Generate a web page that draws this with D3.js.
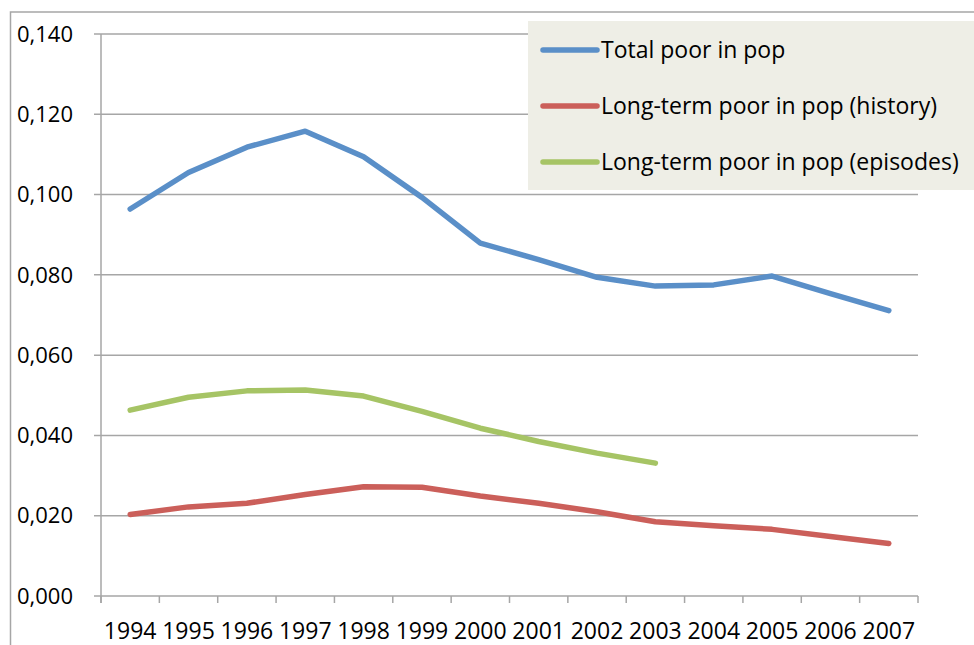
<!DOCTYPE html>
<html>
<head>
<meta charset="utf-8">
<script src="https://cdn.jsdelivr.net/npm/d3@7"></script>
<style>
  body { margin: 0; background: #fff; overflow: hidden; }
  text { font-family: "Open Sans", sans-serif; fill: #000; }
</style>
</head>
<body>
<script>
// data
var years = ["1994","1995","1996","1997","1998","1999","2000","2001","2002","2003","2004","2005","2006","2007"];
var totalPoor = [0.0964, 0.1055, 0.1118, 0.1158, 0.1094, 0.0993, 0.0879, 0.0838, 0.0794, 0.0772, 0.0775, 0.0797, 0.0753, 0.0711];
var longHistory = [0.0203, 0.0222, 0.0231, 0.0253, 0.0272, 0.0271, 0.0249, 0.0231, 0.0210, 0.0185, 0.0175, 0.0166, 0.0148, 0.0131];
var longEpisodes = [0.0463, 0.0495, 0.0511, 0.0513, 0.0498, 0.0460, 0.0418, 0.0385, 0.0356, 0.0331];
var yTicks = [0, 0.02, 0.04, 0.06, 0.08, 0.10, 0.12, 0.14];

var series = [
  { name: "Total poor in pop", values: totalPoor, color: "#5A8FC8" },
  { name: "Long-term poor in pop (history)", values: longHistory, color: "#CB5F5A" },
  { name: "Long-term poor in pop (episodes)", values: longEpisodes, color: "#A6C465" }
];

var W = 974, H = 645;
var plotLeft = 101, plotRight = 918, plotTop = 34, plotBottom = 596;

var svg = d3.select("body").append("svg")
  .attr("width", W)
  .attr("height", H);

// outer chart border
svg.append("rect")
  .attr("x", 10.5).attr("y", 12)
  .attr("width", 1000).attr("height", 700)
  .attr("fill", "none")
  .attr("stroke", "#A6A6A6")
  .attr("stroke-width", 1.5);

var x = d3.scaleBand().domain(years).range([plotLeft, plotRight]).padding(0);
var y = d3.scaleLinear().domain([0, 0.14]).range([plotBottom, plotTop]);

var fmt = d3.formatLocale({ decimal: ",", thousands: ".", grouping: [3], currency: ["", ""] }).format(".3f");

// gridlines
svg.append("g").selectAll("line")
  .data(yTicks)
  .enter().append("line")
  .attr("x1", plotLeft - 7).attr("x2", plotRight)
  .attr("y1", function(d) { return y(d); })
  .attr("y2", function(d) { return y(d); })
  .attr("stroke", "#A6A6A6")
  .attr("stroke-width", 1.5);

// y axis line
svg.append("line")
  .attr("x1", plotLeft).attr("x2", plotLeft)
  .attr("y1", plotTop).attr("y2", plotBottom + 7)
  .attr("stroke", "#A6A6A6")
  .attr("stroke-width", 1.5);

// y labels
svg.append("g").selectAll("text")
  .data(yTicks)
  .enter().append("text")
  .attr("x", 73)
  .attr("y", function(d) { return y(d); })
  .attr("dy", "0.35em")
  .attr("text-anchor", "end")
  .style("font-size", "22px")
  .text(function(d) { return fmt(d); });

// x tick marks between the categories
var tickPos = years.map(function(d) { return x(d); }).concat([plotRight]);
svg.append("g").selectAll("line")
  .data(tickPos)
  .enter().append("line")
  .attr("x1", function(d) { return d; })
  .attr("x2", function(d) { return d; })
  .attr("y1", plotBottom).attr("y2", plotBottom + 7)
  .attr("stroke", "#A6A6A6")
  .attr("stroke-width", 1.5);

// x labels
svg.append("g").selectAll("text")
  .data(years)
  .enter().append("text")
  .attr("x", function(d) { return x(d) + x.bandwidth() / 2; })
  .attr("y", 631)
  .attr("dy", "0.35em")
  .attr("text-anchor", "middle")
  .style("font-size", "23px")
  .text(function(d) { return d; });

// lines
var line = d3.line()
  .x(function(d, i) { return x(years[i]) + x.bandwidth() / 2; })
  .y(function(d) { return y(d); });

svg.append("g").selectAll("path")
  .data(series)
  .enter().append("path")
  .attr("d", function(s) { return line(s.values); })
  .attr("fill", "none")
  .attr("stroke", function(s) { return s.color; })
  .attr("stroke-width", 5.5)
  .attr("stroke-linejoin", "round")
  .attr("stroke-linecap", "round");

// legend
var legend = svg.append("g");
legend.append("rect")
  .attr("x", 528).attr("y", 21)
  .attr("width", 460).attr("height", 169)
  .attr("fill", "#EEEEE6");

var items = legend.selectAll("g.item")
  .data(series)
  .enter().append("g")
  .attr("class", "item")
  .attr("transform", function(d, i) { return "translate(0," + (50 + i * 56) + ")"; });

items.append("line")
  .attr("x1", 543).attr("x2", 597)
  .attr("y1", 0).attr("y2", 0)
  .attr("stroke", function(d) { return d.color; })
  .attr("stroke-width", 5.5)
  .attr("stroke-linecap", "round");

items.append("text")
  .attr("x", 601)
  .attr("y", 0)
  .attr("dy", "0.35em")
  .style("font-size", "23px")
  .text(function(d) { return d.name; });
</script>
</body>
</html>
